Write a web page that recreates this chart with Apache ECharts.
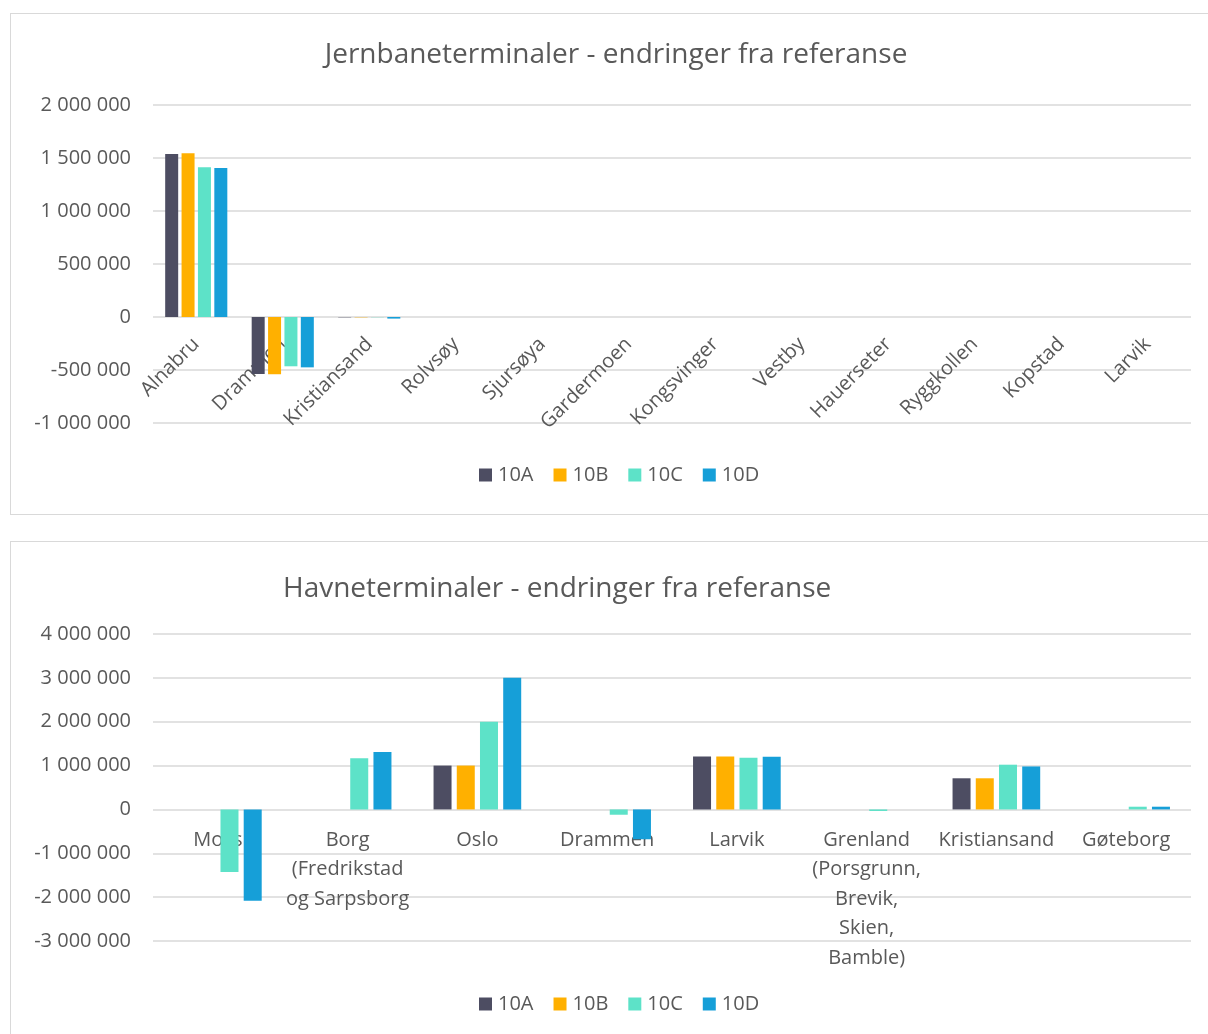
<!DOCTYPE html>
<html>
<head>
<meta charset="utf-8">
<script src="https://cdn.jsdelivr.net/npm/echarts@6/dist/echarts.min.js"></script>
<style>
  html, body { margin: 0; padding: 0; background: #fff; overflow: hidden; width: 1208px; height: 1034px; }
  .box { position: absolute; left: 10px; width: 1210px; height: 500px; border: 1px solid #d9d9d9; background: #fff; }
  #rail { top: 13px; }
  #port { top: 541px; }
</style>
</head>
<body>
<div id="rail" class="box"></div>
<div id="port" class="box"></div>
<script>
// Rail terminals: change from reference
const railCategories = ['Alnabru', 'Drammen', 'Kristiansand', 'Rolvsøy', 'Sjursøya', 'Gardermoen',
  'Kongsvinger', 'Vestby', 'Hauerseter', 'Ryggkollen', 'Kopstad', 'Larvik'];
const rail10A = [1538000, -538000, -3000, 0, 0, 0, 0, 0, 0, 0, 0, 0];
const rail10B = [1544000, -540000, -3000, 0, 0, 0, 0, 0, 0, 0, 0, 0];
const rail10C = [1412000, -465000, -2000, 0, 0, 0, 0, 0, 0, 0, 0, 0];
const rail10D = [1406000, -475000, -15000, 0, 0, 0, 0, 0, 0, 0, 0, 0];

// Port terminals: change from reference
const portCategories = ['Moss', 'Borg\n(Fredrikstad\nog Sarpsborg', 'Oslo', 'Drammen', 'Larvik',
  'Grenland\n(Porsgrunn,\nBrevik,\nSkien,\nBamble)', 'Kristiansand', 'Gøteborg'];
const port10A = [0, 0, 1000000, 0, 1205000, 0, 710000, 0];
const port10B = [0, 0, 1000000, 0, 1205000, 0, 710000, 0];
const port10C = [-1426000, 1166000, 2000000, -121000, 1180000, -35000, 1020000, 62000];
const port10D = [-2080000, 1310000, 3000000, -680000, 1200000, 0, 980000, 62000];

const seriesNames = ['10A', '10B', '10C', '10D'];
const seriesColors = ['#4d4d62', '#ffb000', '#5de2c8', '#169fd8'];

const FONT = '"Open Sans", "Noto Sans", sans-serif';
const TEXT = '#595959';
const GRID = '#d9d9d9';

function fmt(v) {
  const s = Math.abs(v).toString().replace(/\B(?=(\d{3})+(?!\d))/g, ' ');
  return (v < 0 ? '-' : '') + s;
}

function makeOption(cfg) {
  // category axis sits on the value axis' zero line
  const zeroOffset = -cfg.grid.height * (0 - cfg.min) / (cfg.max - cfg.min);
  return {
    animation: false,
    textStyle: { fontFamily: FONT },
    title: {
      text: cfg.title,
      left: cfg.titleLeft,
      top: cfg.titleTop,
      textStyle: { fontFamily: FONT, fontSize: 28, fontWeight: 'normal', color: TEXT }
    },
    legend: {
      data: seriesNames,
      left: 463,
      top: cfg.legendTop,
      itemWidth: 13,
      itemHeight: 13,
      itemGap: 20,
      icon: 'rect',
      textStyle: { fontFamily: FONT, fontSize: 20, color: TEXT, padding: [0, 0, 0, 1] }
    },
    grid: {
      left: cfg.grid.left, right: cfg.grid.right, top: cfg.grid.top, height: cfg.grid.height,
      containLabel: false, outerBoundsMode: 'none'
    },
    xAxis: {
      type: 'category',
      data: cfg.categories,
      position: 'bottom',
      offset: zeroOffset,
      axisLine: { onZero: false, show: false },
      axisTick: { show: false },
      axisLabel: Object.assign({
        interval: 0,
        color: TEXT,
        fontFamily: FONT,
        fontSize: 20
      }, cfg.xLabel)
    },
    yAxis: {
      type: 'value',
      min: cfg.min,
      max: cfg.max,
      interval: cfg.interval,
      axisLine: { show: false },
      axisTick: { show: false },
      splitLine: { lineStyle: { color: GRID, width: 1.5 } },
      axisLabel: { color: TEXT, fontFamily: FONT, fontSize: 20, margin: 22, formatter: fmt }
    },
    series: cfg.values.map((vals, i) => ({
      name: seriesNames[i],
      type: 'bar',
      data: vals,
      barWidth: cfg.barWidth,
      barGap: cfg.barGap,
      itemStyle: { color: seriesColors[i] }
    }))
  };
}

const railChart = echarts.init(document.getElementById('rail'), null, { renderer: 'canvas' });
railChart.setOption(makeOption({
  title: 'Jernbaneterminaler - endringer fra referanse',
  titleLeft: 'center', titleTop: 22,
  legendTop: 446,
  grid: { left: 142, right: 30, top: 91, height: 318 },
  categories: railCategories,
  xLabel: { rotate: 45, margin: 24 },
  min: -1000000, max: 2000000, interval: 500000,
  values: [rail10A, rail10B, rail10C, rail10D],
  barWidth: 13, barGap: '26%'
}));

const portChart = echarts.init(document.getElementById('port'), null, { renderer: 'canvas' });
portChart.setOption(makeOption({
  title: 'Havneterminaler - endringer fra referanse',
  titleLeft: 267, titleTop: 28,
  legendTop: 447,
  grid: { left: 142, right: 30, top: 92, height: 307 },
  categories: portCategories,
  xLabel: { rotate: 0, margin: 16, lineHeight: 29.5 },
  min: -3000000, max: 4000000, interval: 1000000,
  values: [port10A, port10B, port10C, port10D],
  barWidth: 18, barGap: '29%'
}));
</script>
</body>
</html>
